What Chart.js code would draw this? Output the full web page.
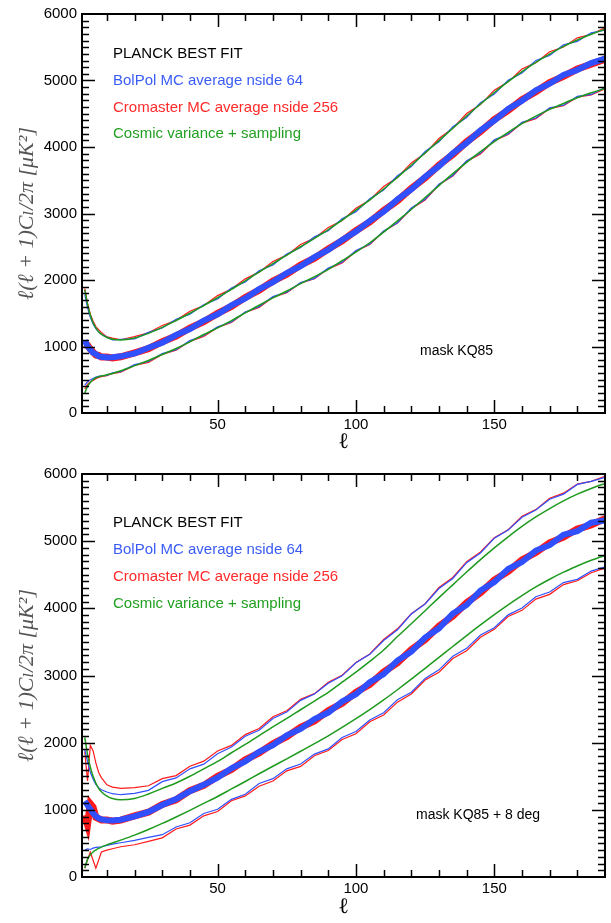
<!DOCTYPE html>
<html lang="en">
<head>
<meta charset="UTF-8">
<title>Planck best fit vs MC averages</title>
<script src="https://cdn.jsdelivr.net/npm/chart.js"></script>
<style>
    body {
        margin: 0;
        background: #fff;
        font-family: "Liberation Sans", Arial, sans-serif;
    }

    .panel {
        position: relative;
        width: 611px;
    }

    .panel canvas {
        display: block;
    }

    .note {
        position: absolute;
        font-size: 15px;
        line-height: 18px;
        white-space: nowrap;
    }

    .black { color: #000; }
    .blue { color: #3a5cf5; }
    .red { color: #ff2a2a; }
    .green { color: #22a022; }
</style>
</head>
<body>

<div class="panel">
    <canvas id="kq85" width="611" height="460"></canvas>
    <div class="note black" style="left:113px; top:44px;">PLANCK BEST FIT</div>
    <div class="note blue" style="left:113px; top:71px;">BolPol MC average nside 64</div>
    <div class="note red" style="left:113px; top:98px;">Cromaster MC average nside 256</div>
    <div class="note green" style="left:113px; top:124px;">Cosmic variance + sampling</div>
    <div class="note black" style="left:420px; top:341px; font-size:14px;">mask KQ85</div>
</div>

<div class="panel">
    <canvas id="kq85deg" width="611" height="463"></canvas>
    <div class="note black" style="left:113px; top:53px;">PLANCK BEST FIT</div>
    <div class="note blue" style="left:113px; top:80px;">BolPol MC average nside 64</div>
    <div class="note red" style="left:113px; top:107px;">Cromaster MC average nside 256</div>
    <div class="note green" style="left:113px; top:134px;">Cosmic variance + sampling</div>
    <div class="note black" style="left:416px; top:345px; font-size:14px;">mask KQ85 + 8 deg</div>
</div>

<script>
    const ell = [2, 3, 4, 5, 6, 7, 8, 10, 12, 15, 20, 25, 30, 35, 40, 45, 50, 55, 60, 65, 70, 75, 80, 85, 90, 95,
        100, 105, 110, 115, 120, 125, 130, 135, 140, 145, 150, 155, 160, 165, 170, 175, 180, 185, 190];

    const planckFit = [1070, 1010, 955, 910, 880, 860, 850, 838, 835, 848, 898, 975, 1065, 1165, 1270, 1380, 1490, 1610, 1730, 1855,
        1975, 2095, 2215, 2335, 2460, 2595, 2735, 2880, 3035, 3200, 3370, 3545, 3720, 3895, 4070, 4240, 4405, 4560, 4705, 4840,
        4960, 5070, 5165, 5250, 5325];

    // mask KQ85
    const bolMeanKQ85 = [1090, 1005, 950, 905, 885, 855, 845, 835, 840, 852, 895, 982, 1058, 1172, 1262, 1390, 1484, 1618, 1722, 1862,
        1968, 2104, 2208, 2344, 2452, 2603, 2728, 2890, 3028, 3212, 3362, 3552, 3712, 3905, 4062, 4252, 4398, 4572, 4696, 4852,
        4952, 5082, 5158, 5262, 5330];
    const cromMeanKQ85 = [1040, 1020, 960, 915, 872, 866, 842, 842, 828, 845, 905, 968, 1072, 1158, 1278, 1372, 1498, 1602, 1738, 1848,
        1984, 2088, 2224, 2328, 2468, 2588, 2742, 2872, 3044, 3192, 3378, 3538, 3728, 3888, 4078, 4232, 4412, 4552, 4712, 4832,
        4968, 5062, 5172, 5244, 5318];
    const cvUpKQ85 = [1851, 1633, 1475, 1358, 1279, 1223, 1187, 1136, 1108, 1097, 1127, 1198, 1288, 1391, 1500, 1616, 1733, 1860, 1987, 2120,
        2247, 2374, 2500, 2627, 2759, 2901, 3050, 3204, 3368, 3544, 3725, 3910, 4096, 4281, 4466, 4646, 4820, 4982, 5134, 5274,
        5398, 5512, 5609, 5695, 5771];
    const cvLoKQ85 = [300, 400, 460, 500, 530, 545, 555, 575, 595, 635, 712, 790, 880, 970, 1070, 1180, 1280, 1390, 1505, 1620,
        1730, 1835, 1945, 2050, 2160, 2290, 2420, 2560, 2720, 2890, 3060, 3240, 3420, 3600, 3770, 3930, 4080, 4220, 4350, 4465,
        4565, 4655, 4740, 4815, 4880];
    const bolUpKQ85 = [1780, 1580, 1440, 1340, 1270, 1220, 1185, 1141, 1100, 1107, 1115, 1213, 1278, 1409, 1485, 1628, 1715, 1880, 1972, 2138,
        2227, 2389, 2488, 2649, 2741, 2921, 3028, 3222, 3353, 3569, 3705, 3932, 4078, 4306, 4444, 4666, 4795, 5004, 5114, 5302,
        5376, 5537, 5589, 5717, 5756];
    const cromUpKQ85 = [1871, 1648, 1485, 1383, 1299, 1253, 1212, 1144, 1126, 1102, 1149, 1206, 1316, 1393, 1530, 1616, 1765, 1865, 2017, 2118,
        2279, 2374, 2535, 2629, 2791, 2896, 3080, 3204, 3406, 3542, 3760, 3905, 4128, 4281, 4504, 4638, 4855, 4980, 5172, 5269,
        5433, 5504, 5641, 5695, 5791];
    const bolLoKQ85 = [420, 470, 500, 520, 540, 550, 560, 567, 605, 623, 727, 775, 892, 952, 1090, 1165, 1298, 1368, 1520, 1600,
        1752, 1817, 1960, 2025, 2180, 2268, 2445, 2540, 2738, 2862, 3082, 3215, 3440, 3572, 3795, 3908, 4108, 4195, 4372, 4435,
        4590, 4627, 4762, 4790, 4895];
    const cromLoKQ85 = [360, 430, 470, 490, 515, 535, 548, 560, 593, 615, 714, 762, 880, 945, 1078, 1150, 1285, 1360, 1513, 1588,
        1740, 1810, 1953, 2018, 2168, 2255, 2432, 2532, 2730, 2855, 3070, 3202, 3432, 3565, 3782, 3895, 4095, 4188, 4360, 4427,
        4577, 4620, 4750, 4783, 4875];

    // mask KQ85 + 8 deg
    const bolMeanKQ85d = [1130, 1070, 1010, 950, 905, 875, 858, 846, 842, 852, 902, 970, 1072, 1160, 1278, 1372, 1478, 1618, 1722, 1865,
        1962, 2110, 2205, 2350, 2448, 2612, 2722, 2900, 3020, 3222, 3355, 3565, 3702, 3920, 4050, 4265, 4390, 4585, 4690, 4860,
        4940, 5095, 5150, 5275, 5310];
    const cromMeanKQ85d = [920, 780, 1090, 1040, 890, 870, 850, 850, 830, 846, 910, 965, 1080, 1150, 1285, 1365, 1500, 1600, 1745, 1848,
        1985, 2090, 2230, 2322, 2475, 2585, 2750, 2868, 3050, 3190, 3385, 3535, 3735, 3885, 4085, 4230, 4420, 4550, 4720, 4830,
        4975, 5060, 5180, 5240, 5335];
    const cvUpKQ85d = [2080, 1830, 1640, 1500, 1400, 1320, 1270, 1205, 1168, 1150, 1170, 1235, 1320, 1400, 1500, 1610, 1720, 1850, 1975, 2105,
        2235, 2360, 2490, 2620, 2750, 2900, 3050, 3210, 3380, 3580, 3770, 3965, 4160, 4350, 4540, 4725, 4900, 5065, 5220, 5360,
        5485, 5600, 5700, 5785, 5860];
    const cvLoKQ85d = [132, 262, 331, 372, 401, 425, 445, 479, 507, 549, 623, 707, 798, 894, 993, 1096, 1199, 1311, 1422, 1537,
        1649, 1760, 1872, 1985, 2102, 2227, 2357, 2492, 2636, 2788, 2945, 3107, 3269, 3432, 3594, 3753, 3907, 4053, 4190, 4318,
        4433, 4539, 4631, 4715, 4789];
    const bolUpKQ85d = [1900, 1720, 1560, 1460, 1380, 1330, 1300, 1265, 1240, 1225, 1245, 1290, 1420, 1475, 1610, 1680, 1835, 1935, 2095, 2185,
        2360, 2455, 2630, 2725, 2885, 2995, 3190, 3315, 3520, 3680, 3915, 4065, 4295, 4445, 4680, 4825, 5045, 5165, 5355, 5465,
        5625, 5700, 5845, 5890, 5950];
    const cromUpKQ85d = [1870, 1430, 1960, 1880, 1700, 1560, 1480, 1372, 1338, 1320, 1332, 1358, 1465, 1510, 1650, 1725, 1875, 1960, 2120, 2210,
        2385, 2475, 2645, 2730, 2900, 3005, 3195, 3320, 3535, 3695, 3920, 4070, 4310, 4460, 4695, 4840, 5050, 5170, 5370, 5470,
        5640, 5715, 5850, 5890, 5965];
    const bolLoKQ85d = [400, 420, 410, 430, 440, 445, 450, 470, 490, 510, 545, 590, 630, 744, 808, 946, 1009, 1156, 1232, 1392,
        1464, 1610, 1682, 1830, 1907, 2077, 2167, 2337, 2446, 2638, 2750, 2957, 3084, 3287, 3404, 3603, 3712, 3903, 4005, 4173,
        4243, 4384, 4431, 4555, 4619];
    const cromLoKQ85d = [130, 260, 372, 250, 130, 250, 372, 400, 420, 450, 480, 530, 583, 714, 773, 911, 974, 1136, 1207, 1352,
        1429, 1580, 1647, 1805, 1882, 2047, 2132, 2312, 2411, 2603, 2725, 2932, 3049, 3252, 3369, 3568, 3687, 3878, 3970, 4138,
        4208, 4354, 4411, 4530, 4599];

    const BLUE = "#3050ff";
    const RED = "#ff1a1a";
    const GREEN = "#1e9a1e";

    function pts(values) {
        return ell.map((l, i) => ({ x: l, y: values[i] }));
    }

    function line(label, values, color, width, smooth) {
        return {
            label: label,
            data: pts(values),
            borderColor: color,
            backgroundColor: color,
            borderWidth: width,
            pointRadius: 0,
            fill: false,
            tension: 0,
            cubicInterpolationMode: smooth ? "monotone" : "default"
        };
    }

    // box + inward ticks on all four sides, like the original plot
    const frameTicks = {
        id: "frameTicks",
        afterDraw(chart) {
            const { ctx, chartArea: a, scales: { x, y } } = chart;
            ctx.save();
            ctx.strokeStyle = "#000";
            ctx.lineWidth = 2;
            ctx.strokeRect(a.left, a.top, a.right - a.left, a.bottom - a.top);
            ctx.lineWidth = 1.5;
            ctx.beginPath();
            for (let v = 10; v < 190; v += 10) {
                const px = Math.round(x.getPixelForValue(v)) + 0.5;
                const len = v % 50 === 0 ? 13 : 7;
                ctx.moveTo(px, a.bottom);
                ctx.lineTo(px, a.bottom - len);
                ctx.moveTo(px, a.top);
                ctx.lineTo(px, a.top + len);
            }
            for (let v = 100; v < 6000; v += 100) {
                const py = Math.round(y.getPixelForValue(v)) + 0.5;
                const len = v % 1000 === 0 ? 13 : 7;
                ctx.moveTo(a.left, py);
                ctx.lineTo(a.left + len, py);
                ctx.moveTo(a.right, py);
                ctx.lineTo(a.right - len, py);
            }
            ctx.stroke();
            ctx.restore();
        }
    };

    function drawPanel(id, padTop, axisHeight, titlePad, s) {
        new Chart(document.getElementById(id), {
            type: "line",
            data: {
                datasets: [
                    line("BolPol MC average", s.bolMean, BLUE, 6),
                    line("Cromaster MC average", s.cromMean, RED, 7),
                    line("Planck best fit", planckFit, "#000", 1),
                    line("CV upper", s.cvUp, GREEN, 1.5, true),
                    line("CV lower", s.cvLo, GREEN, 1.5, true),
                    line("BolPol upper", s.bolUp, BLUE, 1.2),
                    line("BolPol lower", s.bolLo, BLUE, 1.2),
                    line("Cromaster upper", s.cromUp, RED, 1.2),
                    line("Cromaster lower", s.cromLo, RED, 1.2)
                ]
            },
            options: {
                responsive: false,
                animation: false,
                layout: { padding: { top: padTop, right: 6, left: 0, bottom: 0 } },
                plugins: {
                    legend: { display: false },
                    tooltip: { enabled: false }
                },
                scales: {
                    x: {
                        type: "linear",
                        min: 1,
                        max: 190,
                        grid: { display: false, drawTicks: false },
                        border: { display: false },
                        ticks: {
                            stepSize: 50,
                            includeBounds: false,
                            autoSkip: false,
                            maxRotation: 0,
                            padding: 3,
                            color: "#000",
                            font: { family: "Liberation Sans", size: 15 },
                            callback: (v) => String(v)
                        },
                        title: {
                            display: true,
                            text: "ℓ",
                            color: "#000",
                            font: { family: "DejaVu Serif", size: 22 },
                            padding: { bottom: titlePad }
                        },
                        afterFit(scale) { scale.height = axisHeight; }
                    },
                    y: {
                        min: 0,
                        max: 6000,
                        grid: { display: false, drawTicks: false },
                        border: { display: false },
                        ticks: {
                            stepSize: 1000,
                            padding: 5,
                            color: "#000",
                            font: { family: "Liberation Sans", size: 15 },
                            callback: (v) => String(v)
                        },
                        title: {
                            display: true,
                            text: "ℓ(ℓ + 1)Cₗ/2π [μK²]",
                            color: "#555",
                            font: { family: "'Liberation Serif', 'DejaVu Serif'", size: 22, style: "italic" },
                            padding: { top: 14 }
                        },
                        afterFit(scale) { scale.width = 82; }
                    }
                }
            },
            plugins: [frameTicks]
        });
    }

    drawPanel("kq85", 12, 47, 5, {
        bolMean: bolMeanKQ85, cromMean: cromMeanKQ85,
        cvUp: cvUpKQ85, cvLo: cvLoKQ85,
        bolUp: bolUpKQ85, bolLo: bolLoKQ85,
        cromUp: cromUpKQ85, cromLo: cromLoKQ85
    });

    drawPanel("kq85deg", 9, 46, 3, {
        bolMean: bolMeanKQ85d, cromMean: cromMeanKQ85d,
        cvUp: cvUpKQ85d, cvLo: cvLoKQ85d,
        bolUp: bolUpKQ85d, bolLo: bolLoKQ85d,
        cromUp: cromUpKQ85d, cromLo: cromLoKQ85d
    });
</script>
</body>
</html>
